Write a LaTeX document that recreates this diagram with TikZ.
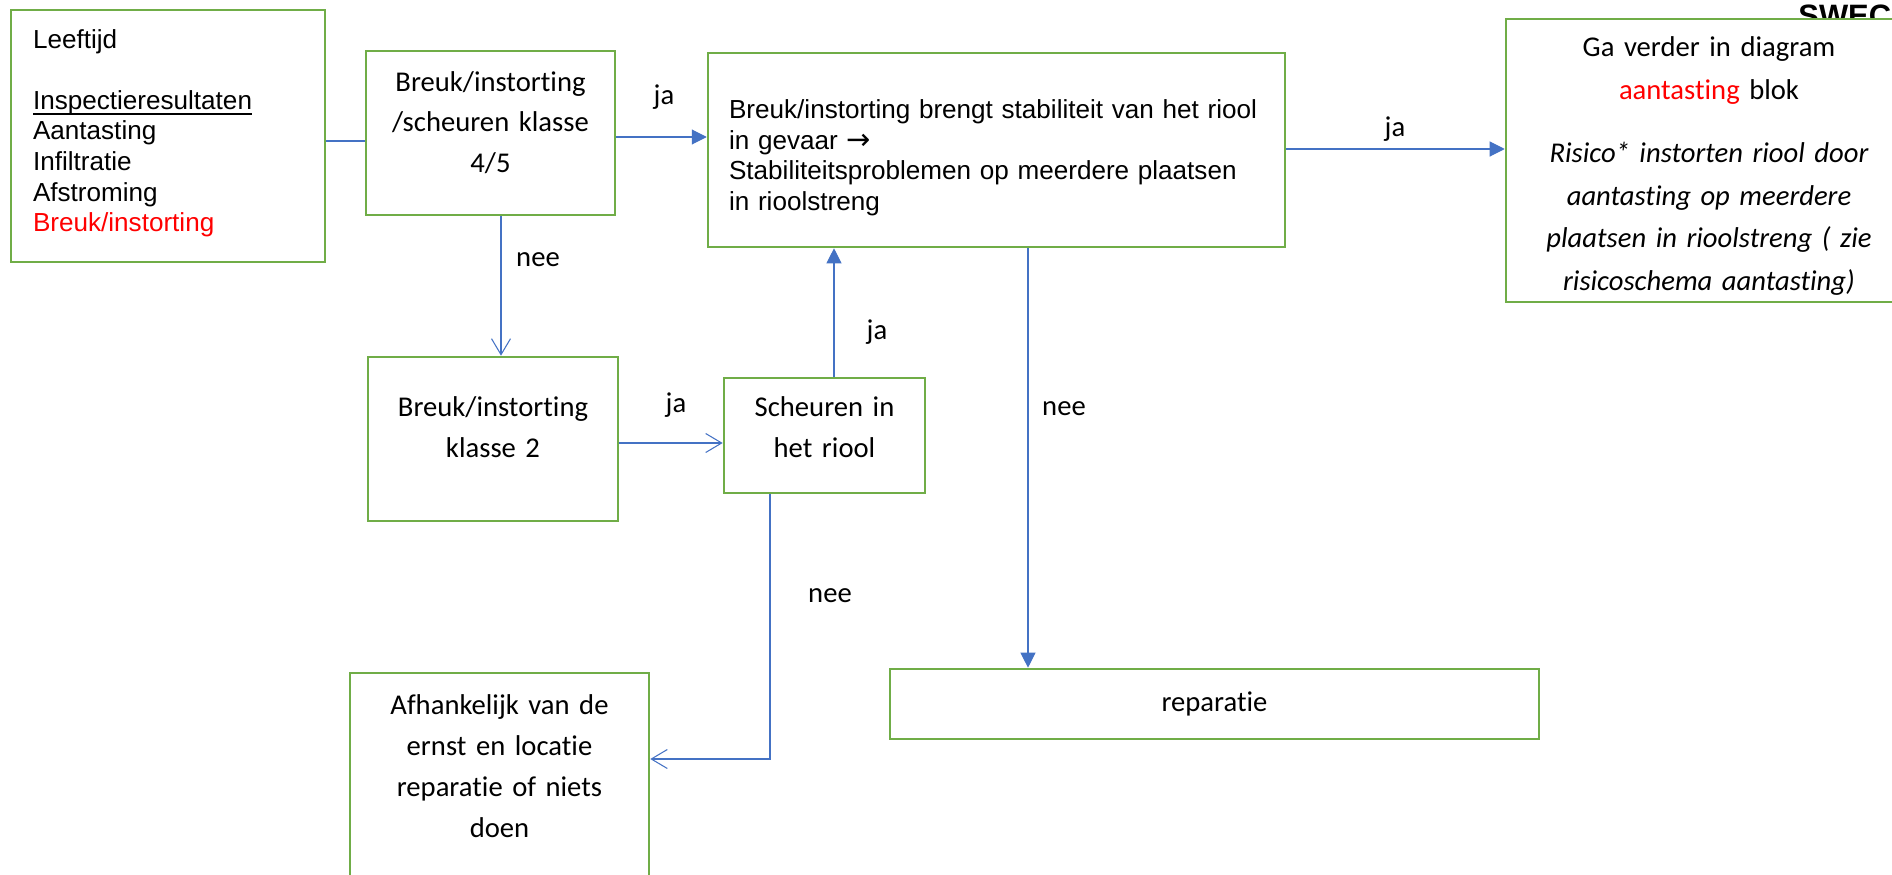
\documentclass[tikz,border=0pt]{standalone}
\usepackage{fontspec}
\setmainfont{Carlito}[Ligatures=NoCommon]
\newfontfamily\arial{Liberation Sans}
\newfontfamily\arrowfont{DejaVu Sans}
\usetikzlibrary{arrows.meta}

\definecolor{boxgreen}{HTML}{70AD47}
\definecolor{linkblue}{HTML}{4472C4}

%underline just under the baseline, like the word processor does it
\newcommand{\lineunder}[1]{\leavevmode\setbox0\hbox{#1}\rlap{\rule[-0.2em]{\wd0}{0.07em}}\box0}
%extra room under (lift) or above (sink) a text block, to move it inside its box
\newcommand{\lift}[1]{\rule[-#1]{0pt}{#1}}
\newcommand{\sink}[1]{\leavevmode\rule{0pt}{#1}}

\begin{document}
\begin{tikzpicture}[x=0.02cm, y=-0.02cm,
	box/.style={draw=boxgreen, line width=1.5pt, fill=white, inner sep=0pt, align=center, font=\fontsize{16.3}{23.3}\selectfont},
	arialbox/.style={box, align=left, font=\arial\fontsize{14.85}{17.4}\selectfont},
	link/.style={draw=linkblue, line width=0.6pt},
	fillhead/.style={link, -{Triangle[length=0.3cm, width=0.3cm]}},
	openhead/.style={link, -{Straight Barb[length=0.32cm, width=0.38cm]}},
	answer/.style={inner sep=0pt, font=\fontsize{16.3}{20}\selectfont}]

	%the picture is 1892 x 875, one unit is one pixel
	\useasboundingbox (0,0) rectangle (1892,875);
	\clip (0,0) rectangle (1892,875);

	%logo, mostly hidden behind the box on the right
	\node[anchor=base west, inner sep=0pt, font=\arial\bfseries\fontsize{17.6}{20}\selectfont] (logo) at (1798,27) {SWECO};

	%input, upper left
	\node[arialbox, text width=5.4cm, inner xsep=0.44cm, minimum height=5.04cm] (leeftijd) at (168,136)
		{Leeftijd\\[17.4pt] \lineunder{Inspectieresultaten}\\ Aantasting\\ Infiltratie\\ Afstroming\\ \textcolor{red}{Breuk/instorting}\lift{0.22cm}};

	%questions
	\node[box, text width=4.8cm, minimum width=4.98cm, minimum height=3.28cm] (br45) at (490.5,133)
		{Breuk/instorting\\ /scheuren klasse\\ 4/5\lift{0.44cm}};
	\node[box, text width=4.8cm, minimum width=5cm, minimum height=3.28cm] (br2) at (493,439)
		{Breuk/instorting\\ klasse 2\lift{0.46cm}};
	\node[box, text width=3.8cm, minimum width=4.02cm, minimum height=2.3cm] (sch) at (824.5,435.5)
		{Scheuren in\\ het riool\lift{0.32cm}};
	\node[arialbox, text width=10.7cm, inner xsep=0.42cm, minimum height=3.88cm] (stab) at (996.5,150)
		{\sink{0.68cm}Breuk/instorting brengt stabiliteit van het riool\\ in gevaar {\arrowfont\fontsize{16.5}{17.4}\selectfont →}\\ Stabiliteitsproblemen op meerdere plaatsen\\ in rioolstreng};

	%outcomes
	\node[box, text width=7.8cm, minimum width=8.12cm, minimum height=5.66cm, font=\fontsize{16.3}{24.2}\selectfont] (ga) at (1709,160.5)
		{\sink{0.62cm}Ga verder in diagram\\ \textcolor{red}{aantasting} blok\\[0.42cm] \itshape Risico* instorten riool door\\ aantasting op meerdere\\ plaatsen in rioolstreng ( zie\\ risicoschema aantasting)};
	\node[box, text width=12.5cm, minimum width=12.98cm, minimum height=1.4cm] (rep) at (1214.5,704) {reparatie};
	\node[box, text width=5.7cm, minimum width=5.98cm, minimum height=4.64cm] (afh) at (499.5,789)
		{Afhankelijk van de\\ ernst en locatie\\ reparatie of niets\\ doen\lift{0.92cm}};

	%answers next to the lines
	\foreach \name/\word/\x/\y in {ja1/ja/664/97, nee1/nee/538/260, ja2/ja/676/405, ja3/ja/877/332, nee2/nee/1064/409, ja4/ja/1395/129, nee3/nee/830/596}
		\node[answer] (\name) at (\x,\y) {\word};

	%lines
	\draw[link] (leeftijd.east |- 0,141) -- (br45.west |- 0,141);
	\draw[fillhead] (br45.east |- 0,137) -- (stab.west |- 0,137);
	\draw[openhead] (br45.south -| 501,0) -- (br2.north -| 501,0);
	\draw[openhead] (br2.east |- 0,443) -- (sch.west |- 0,443);
	\draw[fillhead] (sch.north -| 834,0) -- (stab.south -| 834,0);
	\draw[fillhead] (stab.south -| 1028,0) -- (rep.north -| 1028,0);
	\draw[fillhead] (stab.east |- 0,149) -- (ga.west |- 0,149);
	\draw[openhead] (sch.south -| 770,0) |- (afh.east |- 0,759);

\end{tikzpicture}
\end{document}
